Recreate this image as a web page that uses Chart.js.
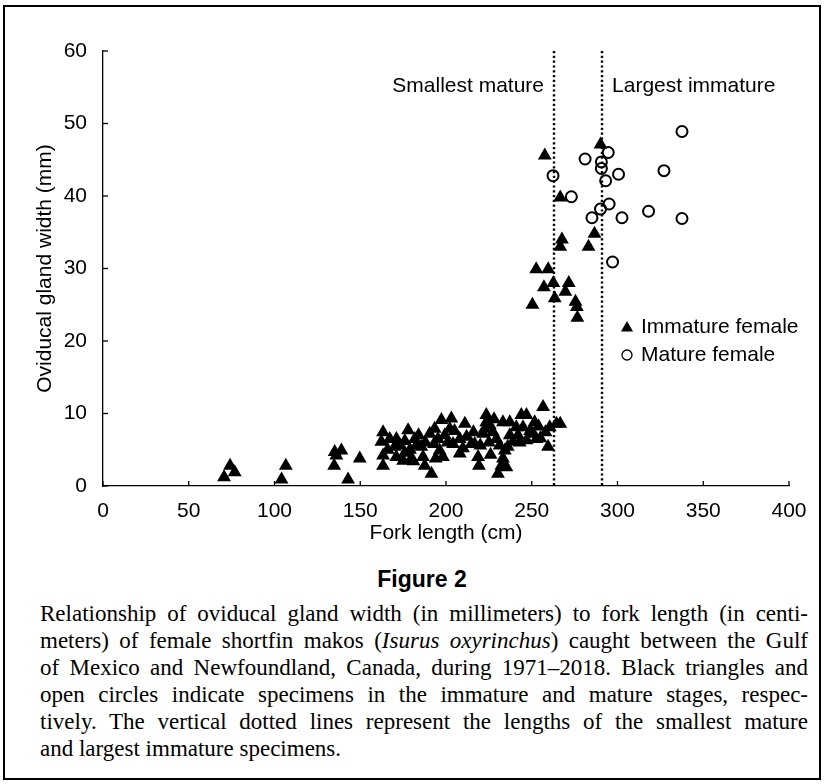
<!DOCTYPE html>
<html>
<head>
<meta charset="utf-8">
<title>Figure 2</title>
<script src="https://cdn.jsdelivr.net/npm/chart.js@4.4.1/dist/chart.umd.min.js"></script>
<style>
    html, body { margin: 0; padding: 0; background: #fff; }
    body { width: 826px; height: 784px; position: relative; overflow: hidden; }
    #frame { position: absolute; left: 3px; top: 5px; width: 818px; height: 775px; border: 2px solid #000; box-sizing: border-box; pointer-events: none; }
    #chartBox { position: absolute; left: 0; top: 0; width: 826px; height: 550px; }
    #figTitle { position: absolute; left: 0; width: 844px; top: 566px; text-align: center; font: bold 23px "Liberation Sans", Arial, sans-serif; }
    #caption { position: absolute; left: 40px; top: 600px; width: 768px; font: 23px "Liberation Serif", serif; line-height: 27px; color: #000; }
    #caption div { text-align: justify; text-align-last: justify; }
    #caption div.last { text-align-last: left; }
</style>
</head>
<body>
<div id="chartBox"><canvas id="gandChart" width="826" height="550"></canvas></div>
<div id="figTitle">Figure 2</div>
<div id="caption">
    <div>Relationship of oviducal gland width (in millimeters) to fork length (in centi-</div>
    <div>meters) of female shortfin makos (<i>Isurus oxyrinchus</i>) caught between the Gulf</div>
    <div>of Mexico and Newfoundland, Canada, during 1971–2018. Black triangles and</div>
    <div>open circles indicate specimens in the immature and mature stages, respec-</div>
    <div>tively. The vertical dotted lines represent the lengths of the smallest mature</div>
    <div class="last">and largest immature specimens.</div>
</div>
<div id="frame"></div>

<script>
// Fork length (cm) / gland width (mm)
const immatureLength = [
    70.6, 74.1, 76.8, 104.1, 106.6, 134.8, 136.1, 135.1, 139.0, 142.9, 149.7,
    162.3, 163.3, 163.3, 163.3, 167.2, 171.1, 170.1, 175.0, 177.9, 179.8, 181.8, 182.7, 185.6, 186.6, 187.6,
    191.5, 190.5, 193.4, 197.3, 203.1, 195.3, 196.3, 198.2, 199.3, 202.2, 204.1, 208.0, 208.0, 209.9,
    214.8, 216.7, 218.7, 219.2, 223.5, 223.5, 222.6, 221.6, 225.5, 227.4, 229.4, 231.3, 233.2, 234.3,
    233.2, 232.3, 230.3, 235.2, 237.2, 237.2, 239.1, 241.0, 243.9, 246.9, 244.9, 251.7, 250.7, 252.7,
    256.6, 259.5, 260.5, 264.4, 266.6,
    166.0, 173.0, 176.0, 179.0, 184.0, 188.0, 193.0, 194.0, 171.0, 176.0, 181.0, 205.0, 211.0, 216.0,
    220.0, 225.0, 228.0, 226.0, 236.0, 243.0, 242.0, 247.0, 249.0, 254.0, 255.0, 258.0, 201.0, 212.0,
    257.6, 290.1, 266.6, 267.6, 266.6, 286.6, 283.1, 252.6, 259.6, 262.6, 257.1, 271.6, 269.6, 263.4,
    250.4, 275.5, 276.3, 276.6
];
const immatureWidth = [
    1.2, 2.8, 1.9, 0.9, 2.8, 2.8, 4.2, 4.7, 4.9, 0.9, 3.8,
    6.1, 7.4, 4.2, 2.8, 6.5, 6.5, 5.4, 3.5, 7.7, 3.8, 6.5, 5.6, 5.4, 4.0, 2.8,
    1.7, 7.2, 7.9, 9.1, 9.3, 6.5, 4.9, 4.0, 7.0, 7.9, 5.8, 6.5, 4.5, 5.2,
    5.8, 5.8, 4.0, 2.8, 9.8, 8.8, 7.9, 7.2, 8.4, 7.4, 6.5, 5.6, 8.8, 4.9,
    3.8, 2.8, 1.7, 2.6, 8.8, 7.0, 6.1, 8.1, 9.8, 9.8, 8.1, 8.8, 7.2, 6.5,
    10.9, 5.4, 8.1, 8.6, 8.6,
    5.0, 5.6, 6.2, 5.0, 7.0, 6.0, 5.8, 3.8, 4.0, 4.6, 3.4, 7.6, 8.6, 7.4,
    5.6, 6.0, 9.2, 4.3, 5.4, 6.0, 7.0, 6.3, 7.6, 8.2, 6.6, 7.4, 6.0, 6.8,
    45.6, 47.1, 39.8, 34.0, 33.0, 34.8, 33.0, 29.9, 29.9, 28.0, 27.4, 28.0, 26.8, 25.9,
    25.0, 25.4, 24.7, 23.2
];
const matureLength = [337.6, 294.6, 281.1, 290.6, 290.6, 262.4, 300.6, 327.1, 293.1, 273.1, 295.1, 290.1, 285.1, 302.6, 318.1, 337.6, 297.1];
const matureWidth = [48.9, 46.0, 45.1, 44.7, 43.8, 42.8, 43.0, 43.5, 42.1, 39.9, 38.9, 38.2, 37.0, 37.0, 37.9, 36.9, 30.9];

const xTicks = [0, 50, 100, 150, 200, 250, 300, 350, 400];
const yTicks = [0, 10, 20, 30, 40, 50, 60];

const smallestMature = 263;
const largestImmature = 291;

const seriesNames = ['Immature female', 'Mature female'];

Chart.defaults.font.family = '"Liberation Sans", Arial, Helvetica, sans-serif';
Chart.defaults.font.size = 21;
Chart.defaults.color = '#000';

function toPoints(xs, ys) {
    return xs.map((x, i) => ({ x: x, y: ys[i] }));
}

// dotted lines, inward ticks, labels, legend
const figureExtras = {
    id: 'figureExtras',
    beforeDatasetsDraw(chart) {
        const { ctx, scales } = chart;
        ctx.save();
        ctx.strokeStyle = '#000';
        ctx.lineWidth = 2.4;
        ctx.setLineDash([2.2, 2.6]);
        [smallestMature, largestImmature].forEach(v => {
            const px = Math.round(scales.x.getPixelForValue(v));
            ctx.beginPath();
            ctx.moveTo(px, scales.y.getPixelForValue(60));
            ctx.lineTo(px, scales.y.getPixelForValue(0));
            ctx.stroke();
        });
        ctx.restore();
    },
    afterDraw(chart) {
        const { ctx, chartArea, scales } = chart;
        ctx.save();
        ctx.strokeStyle = '#000';
        ctx.lineWidth = 1.3;
        scales.x.ticks.forEach(t => {
            const px = scales.x.getPixelForValue(t.value);
            ctx.beginPath();
            ctx.moveTo(px, chartArea.bottom);
            ctx.lineTo(px, chartArea.bottom - 5);
            ctx.stroke();
        });
        scales.y.ticks.forEach(t => {
            const py = scales.y.getPixelForValue(t.value);
            ctx.beginPath();
            ctx.moveTo(chartArea.left, py);
            ctx.lineTo(chartArea.left + 5, py);
            ctx.stroke();
        });

        ctx.fillStyle = '#000';
        ctx.font = '21px "Liberation Sans", Arial, sans-serif';
        ctx.textBaseline = 'middle';
        const labelY = chartArea.top + 35;
        ctx.textAlign = 'right';
        ctx.fillText('Smallest mature', scales.x.getPixelForValue(smallestMature) - 10, labelY);
        ctx.textAlign = 'left';
        ctx.fillText('Largest immature', scales.x.getPixelForValue(largestImmature) + 10, labelY);

        // legend
        const lx = chartArea.left + 524;
        const ly = chartArea.top + 276;
        chart.data.datasets.forEach((ds, i) => {
            const y = ly + i * 28;
            const tri = ds.pointStyle === 'triangle';
            ctx.fillStyle = ds.backgroundColor;
            ctx.strokeStyle = ds.borderColor;
            Chart.helpers.drawPoint(ctx, {
                pointStyle: ds.pointStyle,
                radius: tri ? 7 : 5,
                rotation: 0,
                borderWidth: ds.borderWidth
            }, lx, y + (tri ? 1 : 0));
            ctx.fillStyle = '#000';
            ctx.textAlign = 'left';
            ctx.fillText(seriesNames[i], lx + 14, y);
        });
        ctx.restore();
    }
};

const glandChart = new Chart(document.getElementById('gandChart'), {
    type: 'scatter',
    data: {
        datasets: [
            {
                label: seriesNames[0],
                data: toPoints(immatureLength, immatureWidth),
                pointStyle: 'triangle',
                pointRadius: 8,
                backgroundColor: '#000',
                borderColor: '#000',
                borderWidth: 0
            },
            {
                label: seriesNames[1],
                data: toPoints(matureLength, matureWidth),
                pointStyle: 'circle',
                pointRadius: 5.5,
                backgroundColor: 'rgba(0,0,0,0)',
                borderColor: '#000',
                borderWidth: 2
            }
        ]
    },
    options: {
        responsive: false,
        animation: false,
        events: [],
        layout: { padding: { top: 51, right: 37, left: 0, bottom: 0 } },
        plugins: {
            legend: { display: false },
            tooltip: { enabled: false }
        },
        scales: {
            x: {
                type: 'linear',
                min: 0,
                max: 400,
                afterBuildTicks: s => { s.ticks = xTicks.map(v => ({ value: v })); },
                afterFit: s => { s.height = 64; },
                grid: { display: false },
                border: { display: true, color: '#000', width: 1.3 },
                ticks: { padding: 5, maxRotation: 0, autoSkip: false },
                title: { display: true, text: 'Fork length (cm)', padding: { top: 0, bottom: 4 } }
            },
            y: {
                type: 'linear',
                min: 0,
                max: 60,
                afterBuildTicks: s => { s.ticks = yTicks.map(v => ({ value: v })); },
                afterFit: s => { s.width = 103; },
                grid: { display: false },
                border: { display: true, color: '#000', width: 1.3 },
                ticks: { padding: 8, autoSkip: false },
                title: { display: true, text: 'Oviducal gland width (mm)', padding: { top: 33, bottom: 0 } }
            }
        }
    },
    plugins: [figureExtras]
});
</script>
</body>
</html>
